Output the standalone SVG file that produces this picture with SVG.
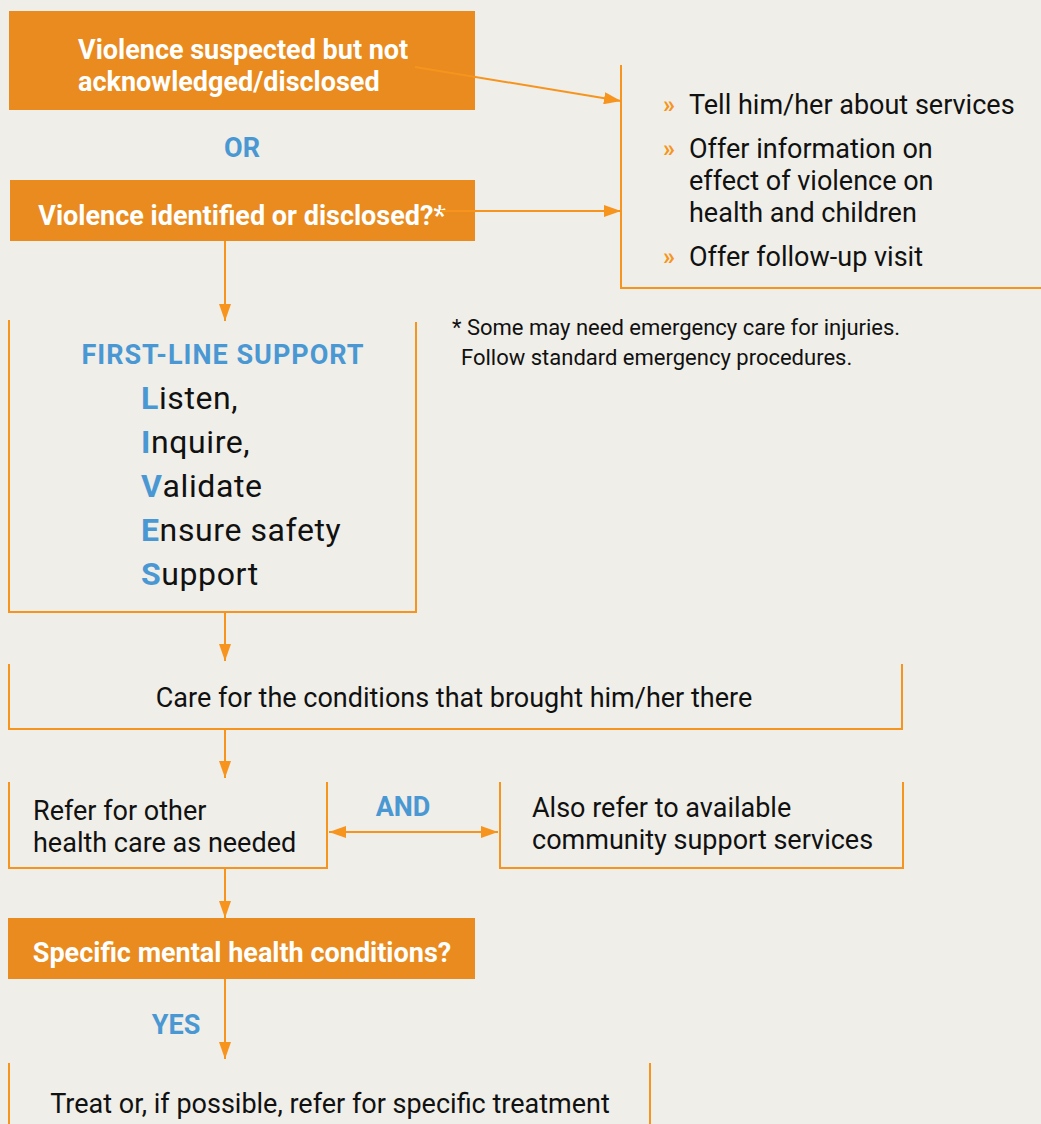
<svg xmlns="http://www.w3.org/2000/svg" width="1041" height="1124" viewBox="0 0 1041 1124">
<defs>
<marker id="ah" viewBox="0 0 17 12" refX="17" refY="6" markerWidth="17" markerHeight="12" markerUnits="userSpaceOnUse" orient="auto-start-reverse">
<path d="M0,0 L17,6 L0,12 z" fill="#f7941d"/>
</marker>
<style>
.box{fill:#e98b1e}
.frame{fill:none;stroke:#f7941d;stroke-width:2}
.conn{fill:none;stroke:#f7941d;stroke-width:2}
text{font-family:Roboto,"Liberation Sans",sans-serif}
.wb{fill:#fff;font-weight:bold;font-size:27px}
.blue{fill:#4a98d3;font-weight:bold;font-size:27px}
.body{fill:#111;font-size:27px}
.lives{fill:#111;font-size:32px;letter-spacing:0.6px}
.cap{fill:#4a98d3;font-weight:bold}
.bul{fill:#f7941d;font-size:24px;font-weight:bold}
.foot{fill:#111;font-size:22px}
</style>
</defs>
<rect width="1041" height="1124" fill="#efeee8"/>

<g id="n-suspected">
<rect class="box" x="9" y="11" width="466" height="99"/>
<text class="wb" x="78" y="59">Violence suspected but not</text>
<text class="wb" x="78" y="91">acknowledged/disclosed</text>
</g>

<g id="l-or">
<text class="blue" x="242" y="157" text-anchor="middle">OR</text>
</g>

<g id="n-identified">
<rect class="box" x="10" y="180" width="465" height="61"/>
<text class="wb" x="242" y="225" text-anchor="middle">Violence identified or disclosed?*</text>
</g>

<g id="n-services">
<path class="frame" d="M621,65 V288 H1041"/>
<text class="bul" x="663" y="113">»</text>
<text class="body" x="689" y="114">Tell him/her about services</text>
<text class="bul" x="663" y="157">»</text>
<text class="body" x="689" y="158">Offer information on</text>
<text class="body" x="689" y="190">effect of violence on</text>
<text class="body" x="689" y="222">health and children</text>
<text class="bul" x="663" y="265">»</text>
<text class="body" x="689" y="266">Offer follow-up visit</text>
</g>

<g id="footnote">
<text class="foot" x="452" y="335">* Some may need emergency care for injuries.</text>
<text class="foot" x="461" y="365">Follow standard emergency procedures.</text>
</g>

<g id="n-firstline">
<path class="frame" d="M9,320 V612 H416 V322"/>
<text class="blue" x="223" y="364" text-anchor="middle" letter-spacing="1">FIRST-LINE SUPPORT</text>
<text class="lives" x="141" y="409"><tspan class="cap">L</tspan>isten,</text>
<text class="lives" x="141" y="453"><tspan class="cap">I</tspan>nquire,</text>
<text class="lives" x="141" y="497"><tspan class="cap">V</tspan>alidate</text>
<text class="lives" x="141" y="541"><tspan class="cap">E</tspan>nsure safety</text>
<text class="lives" x="141" y="585"><tspan class="cap">S</tspan>upport</text>
</g>

<g id="n-care">
<path class="frame" d="M9,664 V729 H902 V664"/>
<text class="body" x="454" y="707" text-anchor="middle">Care for the conditions that brought him/her there</text>
</g>

<g id="n-refer">
<path class="frame" d="M9,782 V868 H327 V782"/>
<text class="body" x="33" y="820">Refer for other</text>
<text class="body" x="33" y="852">health care as needed</text>
</g>

<g id="l-and">
<text class="blue" x="403" y="816" text-anchor="middle">AND</text>
</g>

<g id="n-community">
<path class="frame" d="M500,782 V868 H903 V782"/>
<text class="body" x="532" y="817">Also refer to available</text>
<text class="body" x="532" y="849">community support services</text>
</g>

<g id="n-mental">
<rect class="box" x="8" y="918" width="467" height="61"/>
<text class="wb" x="242" y="962" text-anchor="middle">Specific mental health conditions?</text>
</g>

<g id="l-yes">
<text class="blue" x="176" y="1034" text-anchor="middle">YES</text>
</g>

<g id="n-treat">
<path class="frame" d="M9,1063 V1124 M650,1063 V1124"/>
<text class="body" x="330" y="1113" text-anchor="middle">Treat or, if possible, refer for specific treatment</text>
</g>

<g id="connectors">
<line class="conn" x1="415" y1="67" x2="621" y2="101" marker-end="url(#ah)"/>
<line class="conn" x1="440" y1="211" x2="621" y2="211" marker-end="url(#ah)"/>
<line class="conn" x1="225" y1="241" x2="225" y2="321" marker-end="url(#ah)"/>
<line class="conn" x1="225" y1="612" x2="225" y2="661" marker-end="url(#ah)"/>
<line class="conn" x1="225" y1="729" x2="225" y2="778" marker-end="url(#ah)"/>
<line class="conn" x1="329" y1="832" x2="498" y2="832" marker-start="url(#ah)" marker-end="url(#ah)"/>
<line class="conn" x1="225" y1="868" x2="225" y2="918" marker-end="url(#ah)"/>
<line class="conn" x1="225" y1="979" x2="225" y2="1059" marker-end="url(#ah)"/>
</g>
</svg>
